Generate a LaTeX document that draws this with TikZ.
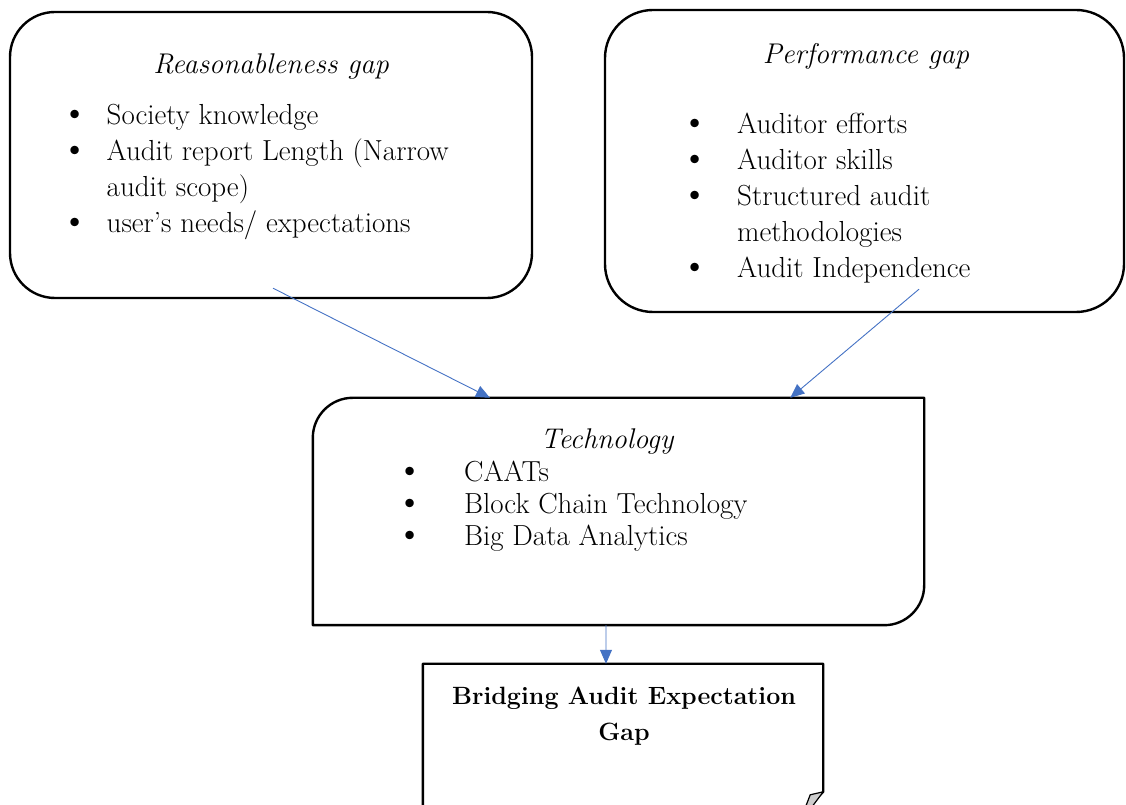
\documentclass[tikz,border=0pt]{standalone}
\usetikzlibrary{arrows.meta,calc}
\definecolor{arrowblue}{RGB}{68,114,196}
\definecolor{foldgray}{RGB}{205,205,205}
\newcommand{\bigbul}{\makebox[0pt]{\scalebox{1.3}{\textbullet}}}
\tikzset{
  boxline/.style={draw=black, line width=2.4pt},
  roundbox/.style={boxline, rectangle, inner sep=0pt},
  areabox/.style={rectangle, inner sep=0pt},
  link/.style={draw=arrowblue, line width=0.9pt, -{Triangle[length=14pt,width=12pt]}},
  boxtitle/.style={anchor=base, inner sep=0pt, font=\fontsize{28.5}{36}\selectfont\itshape},
  listtext/.style={anchor=base west, inner sep=0pt, align=left},
  goaltext/.style={anchor=base, inner sep=0pt, font=\fontsize{25}{36}\selectfont\bfseries}
}
\begin{document}
\begin{tikzpicture}[x=1pt,y=1pt]
\useasboundingbox (0,0) rectangle (1126,805);
\clip (0,0) rectangle (1126,805);

% Reasonableness gap box
\node[roundbox, rounded corners=45pt, minimum width=522pt, minimum height=286pt] (box1) at (271,650) {};
\node[boxtitle] (t1) at (271,731) {Reasonableness gap};
\node[listtext] (l1) at (75,680) {\fontsize{29}{36}\selectfont
  \begin{tabular}[t]{@{}p{31.5pt}@{}l@{}}
  \bigbul & Society knowledge\\
  \bigbul & Audit report Length (Narrow\\
   & audit scope)\\
  \bigbul & user’s needs/ expectations
  \end{tabular}};

% Performance gap box
\node[roundbox, rounded corners=48pt, minimum width=519pt, minimum height=302pt] (box2) at (864.5,644) {};
\node[boxtitle] (t2) at (866,741) {Performance gap};
\node[listtext] (l2) at (695,671) {\fontsize{29}{36}\selectfont
  \begin{tabular}[t]{@{}p{42pt}@{}l@{}}
  \bigbul & Auditor efforts\\
  \bigbul & Auditor skills\\
  \bigbul & Structured audit\\
   & methodologies\\
  \bigbul & Audit Independence
  \end{tabular}};

% Technology box
\node[areabox, minimum width=611pt, minimum height=227pt] (tech) at (618.5,293.5) {};
\draw[boxline, line join=round]
  (tech.south west) -- ($(tech.north west)+(0,-40)$)
  arc[start angle=180, end angle=90, radius=40pt]
  -- (tech.north east) -- ($(tech.south east)+(0,40)$)
  arc[start angle=0, end angle=-90, radius=40pt]
  -- cycle;
\node[boxtitle] (t3) at (607,356) {Technology};
\node[listtext] (l3) at (410,323) {\fontsize{29}{32}\selectfont
  \begin{tabular}[t]{@{}p{54pt}@{}l@{}}
  \bigbul & CAATs\\
  \bigbul & Block Chain Technology\\
  \bigbul & Big Data Analytics
  \end{tabular}};

% Bridging box with folded corner
\node[areabox, minimum width=400pt, minimum height=171pt] (goal) at (623,55.5) {};
\draw[boxline, line join=round]
  (goal.south west) -- (goal.north west) -- (goal.north east)
  -- ($(goal.north east)+(0,-128)$) -- ($(goal.north east)+(-16,-144)$);
\draw[draw=black, line width=1.2pt, fill=foldgray, line join=round]
  ($(goal.north east)+(0,-128)$) -- ($(goal.north east)+(-13,-131)$)
  -- ($(goal.north east)+(-18,-144)$) -- ($(goal.north east)+(-12,-144)$) -- cycle;
\node[goaltext] (g1) at (624,100) {Bridging Audit Expectation};
\node[goaltext] (g2) at (624,64) {Gap};

% Connectors
\draw[link] ($(box1.south)+(2,11)$) -- ($(tech.north west)!0.2897!(tech.north east)$);
\draw[link] ($(box2.south)+(54.5,24)$) -- ($(tech.north west)!0.781!(tech.north east)$);
\draw[link] ($(tech.south west)!0.4795!(tech.south east)$) -- ($(goal.north west)!0.4575!(goal.north east)$);
\end{tikzpicture}
\end{document}
